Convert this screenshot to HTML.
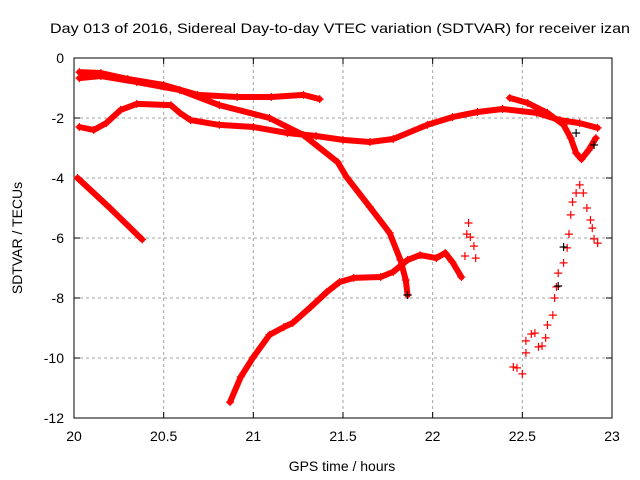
<!DOCTYPE html>
<html><head><meta charset="utf-8"><style>
body{margin:0;background:#fff}
svg{display:block;font-family:"Liberation Sans",sans-serif}
</style></head><body>
<svg id="chart" width="640" height="480" xmlns="http://www.w3.org/2000/svg">
<rect width="640" height="480" fill="#fff"/>
<text x="340" y="33" text-anchor="middle" font-size="14" textLength="580" lengthAdjust="spacingAndGlyphs">Day 013 of 2016, Sidereal Day-to-day VTEC variation (SDTVAR) for receiver izan</text>
<g id="grid"></g><g id="axes"></g><g id="marks"></g>
<text x="342" y="471" text-anchor="middle" font-size="14">GPS time / hours</text>
<text transform="translate(22,238) rotate(-90)" text-anchor="middle" font-size="14">SDTVAR / TECUs</text>
</svg>
<script>
const xTicks=[20,20.5,21,21.5,22,22.5,23];
const xTickLabels=["20","20.5","21","21.5","22","22.5","23"];
const yTicks=[0,-2,-4,-6,-8,-10,-12];
const yTickLabels=["0","-2","-4","-6","-8","-10","-12"];
const trackA=[[20.03,-0.47],[20.15,-0.5],[20.3,-0.7],[20.5,-0.9],[20.69,-1.23],[20.91,-1.3],[21.1,-1.3],[21.28,-1.23],[21.37,-1.37]];
const trackB=[[20.03,-0.67],[20.15,-0.6],[20.35,-0.8],[20.59,-1.07],[20.81,-1.57],[21.09,-2.0],[21.28,-2.57],[21.47,-3.47],[21.52,-3.97],[21.65,-4.97],[21.76,-5.83],[21.82,-6.73],[21.85,-7.4],[21.86,-7.9]];
const trackC=[[20.03,-2.3],[20.11,-2.4],[20.18,-2.17],[20.26,-1.73],[20.35,-1.53],[20.54,-1.57],[20.59,-1.83],[20.65,-2.07],[20.81,-2.23],[21.0,-2.3],[21.19,-2.5],[21.35,-2.6],[21.5,-2.73],[21.65,-2.8],[21.78,-2.7],[21.97,-2.23],[22.11,-1.97],[22.25,-1.8],[22.39,-1.7],[22.58,-1.83],[22.71,-2.07],[22.82,-2.17],[22.92,-2.33]];
const trackD=[[20.02,-4.0],[20.2,-5.0],[20.38,-6.05]];
const trackE=[[20.87,-11.47],[20.93,-10.63],[21.0,-9.97],[21.09,-9.23],[21.17,-8.97],[21.22,-8.83],[21.32,-8.3],[21.41,-7.8],[21.48,-7.47],[21.56,-7.33],[21.71,-7.3],[21.78,-7.13],[21.86,-6.73],[21.93,-6.57],[22.02,-6.67],[22.07,-6.5],[22.11,-6.8],[22.16,-7.3]];
const trackF=[[22.43,-1.33],[22.53,-1.5],[22.64,-1.83],[22.73,-2.23],[22.77,-2.67],[22.8,-3.17],[22.83,-3.37],[22.87,-3.07],[22.91,-2.67]];
const scatterE=[[22.2,-5.5],[22.19,-5.87],[22.23,-6.27],[22.18,-6.6],[22.24,-6.67],[22.21,-5.97]];
const trackG=[[22.45,-10.3],[22.47,-10.33],[22.5,-10.53],[22.52,-9.83],[22.52,-9.43],[22.55,-9.2],[22.57,-9.17],[22.59,-9.63],[22.61,-9.6],[22.63,-9.33],[22.64,-8.9],[22.67,-8.57],[22.68,-8.0],[22.69,-7.63],[22.7,-7.17],[22.73,-6.83],[22.75,-6.33],[22.76,-5.87],[22.77,-5.23],[22.78,-4.8],[22.8,-4.5],[22.82,-4.23],[22.84,-4.5],[22.86,-5.0],[22.88,-5.4],[22.89,-5.67],[22.9,-6.03],[22.92,-6.17]];
const blackPts=[[21.86,-7.9],[22.7,-7.6],[22.73,-6.3],[22.8,-2.5],[22.9,-2.9]];

const L=74,R=612,T=58,B=418;
const xs=v=>L+(v-20)/3*(R-L);
const ys=v=>T+(0-v)/12*(B-T);
const NS="http://www.w3.org/2000/svg";
function mk(tag,parent,attrs){const e=document.createElementNS(NS,tag);for(const k in attrs)e.setAttribute(k,attrs[k]);parent.appendChild(e);return e;}
const grid=document.getElementById('grid'),axes=document.getElementById('axes'),marks=document.getElementById('marks');
xTicks.forEach((t,i)=>{
  const x=xs(t);
  if(i>0&&i<xTicks.length-1){const g=mk('line',grid,{x1:x,x2:x,y1:T,y2:B,stroke:'#a0a0a0','stroke-dasharray':'3,3'});
  
  }
  mk('line',axes,{x1:x,x2:x,y1:B,y2:B-6,stroke:'#000'});
  mk('line',axes,{x1:x,x2:x,y1:T,y2:T+6,stroke:'#000'});
  const tx=mk('text',axes,{x:x,y:B+23,'text-anchor':'middle','font-size':'14'});
  tx.textContent=xTickLabels[i];
  
  
});
yTicks.forEach((t,i)=>{
  const y=ys(t);
  if(i>0&&i<yTicks.length-1){const g=mk('line',grid,{x1:L,x2:R,y1:y,y2:y,stroke:'#a0a0a0','stroke-dasharray':'3,3'});
  
  }
  mk('line',axes,{x1:L,x2:L+6,y1:y,y2:y,stroke:'#000'});
  mk('line',axes,{x1:R,x2:R-6,y1:y,y2:y,stroke:'#000'});
  const tx=mk('text',axes,{x:L-10,y:y+5,'text-anchor':'end','font-size':'14'});
  tx.textContent=yTickLabels[i];
  
  
});
const frame=mk('rect',axes,{x:L,y:T,width:R-L,height:B-T,fill:'none',stroke:'#000'});


function band(pts,name){
  const p=mk('polyline',marks,{points:pts.map(d=>xs(d[0])+','+ys(d[1])).join(' '),fill:'none',stroke:'#f00','stroke-width':'6','stroke-linejoin':'round','stroke-linecap':'round'});
  
  
}
function pluses(pts,name,color){
  pts.forEach(d=>{const x=xs(d[0]),y=ys(d[1]);
    const p=mk('path',marks,{d:`M${x-4},${y}H${x+4}M${x},${y-4}V${y+4}`,stroke:color,'stroke-width':'1.2',fill:'none'});
    
    
  });
}
[[trackA,'track-a'],[trackB,'track-b'],[trackC,'track-c'],[trackD,'track-d'],[trackE,'track-e'],[trackF,'track-f']].forEach(([d,n])=>{band(d,n+'-band');pluses(d,n+'-point','#f00');});
pluses(scatterE,'scatter-point','#f00');
pluses(trackG,'track-g-point','#f00');
pluses(blackPts,'black-point','#000');
</script>
</body></html>
